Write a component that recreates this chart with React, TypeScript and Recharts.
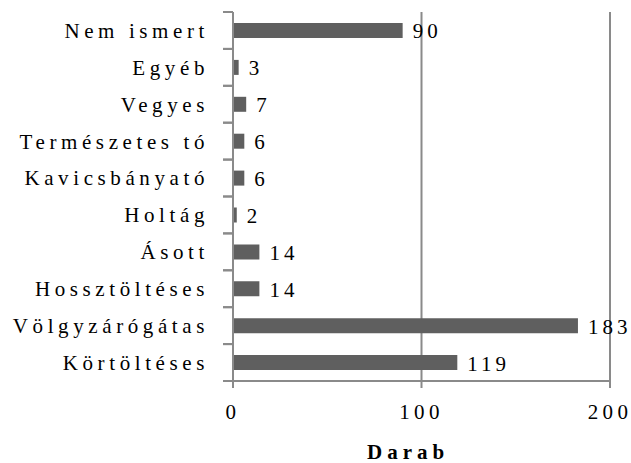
import React from 'react';
import { BarChart, Bar, XAxis, YAxis, CartesianGrid, LabelList } from 'recharts';

const categories = [
  'Nem ismert',
  'Egyéb',
  'Vegyes',
  'Természetes tó',
  'Kavicsbányató',
  'Holtág',
  'Ásott',
  'Hossztöltéses',
  'Völgyzárógátas',
  'Körtöltéses',
];
const counts = [90, 3, 7, 6, 6, 2, 14, 14, 183, 119];
const xTicks = [0, 100, 200];
const xTitle = 'Darab';

const data = categories.map((name, i) => ({ name, value: counts[i] }));

const FONT = 'Liberation Serif, DejaVu Serif, serif';
const AXIS = '#8a8a8a';
const BAR = '#5f5f5f';
const TOP = 12;
const BOTTOM = 381;
const BAND = (BOTTOM - TOP) / categories.length;

const txt = { fontFamily: FONT, fontSize: 21 };

const YTick = (props: any) => {
  const { x, y, payload } = props;
  const ax = x + 8;
  return (
    <g>
      <line x1={ax - 10} x2={ax} y1={y - BAND / 2} y2={y - BAND / 2} stroke={AXIS} strokeWidth={2} />
      <line x1={ax - 10} x2={ax} y1={y + BAND / 2} y2={y + BAND / 2} stroke={AXIS} strokeWidth={2} />
      <text
        x={ax - 24}
        y={y}
        dy="0.35em"
        textAnchor="end"
        style={{ ...txt, letterSpacing: 4.6 }}
        fill="#000"
      >
        {payload.value}
      </text>
    </g>
  );
};

const XTick = (props: any) => {
  const { x, y, payload } = props;
  return (
    <text x={x} y={y + 29} textAnchor="middle" style={{ ...txt, letterSpacing: 4.3 }} fill="#000">
      {payload.value}
    </text>
  );
};

const ValueLabel = (props: any) => {
  const { x, y, width, height, value } = props;
  return (
    <text
      x={x + width + 10}
      y={y + height / 2}
      dy="0.38em"
      style={{ ...txt, letterSpacing: 4 }}
      fill="#000"
    >
      {value}
    </text>
  );
};

const App: React.FC = () => {
  return (
    <div style={{ position: 'absolute', left: 0, top: 0, width: 631, height: 463, background: '#fff' }}>
      <BarChart
        width={631}
        height={463}
        data={data}
        layout="vertical"
        margin={{ top: TOP, right: 21, bottom: 0, left: 0 }}
      >
        <CartesianGrid horizontal={false} vertical={true} stroke={AXIS} strokeWidth={2} />
        <XAxis
          type="number"
          domain={[0, 200]}
          ticks={xTicks}
          height={463 - BOTTOM}
          axisLine={{ stroke: AXIS, strokeWidth: 2 }}
          tickLine={{ stroke: AXIS, strokeWidth: 2 }}
          tickSize={7}
          tick={<XTick />}
          label={{
            content: () => (
              <text
                x={367}
                y={459}
                style={{ ...txt, fontWeight: 'bold', letterSpacing: 5 }}
                fill="#000"
              >
                {xTitle}
              </text>
            ),
          }}
        />
        <YAxis
          type="category"
          dataKey="name"
          width={233}
          axisLine={{ stroke: AXIS, strokeWidth: 2 }}
          tickLine={false}
          tick={<YTick />}
          interval={0}
        />
        <Bar dataKey="value" fill={BAR} barSize={15} isAnimationActive={false}>
          <LabelList dataKey="value" content={<ValueLabel />} />
        </Bar>
      </BarChart>
    </div>
  );
};

export default App;
